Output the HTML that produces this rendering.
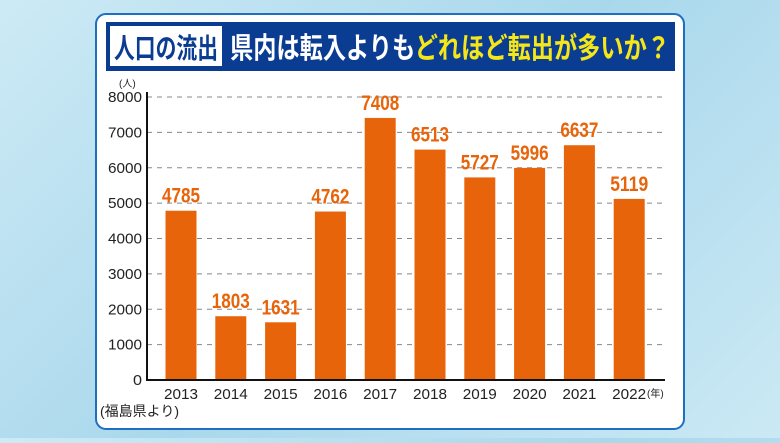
<!DOCTYPE html>
<html><head><meta charset="utf-8"><style>
body{margin:0;width:780px;height:438px;overflow:hidden;background:linear-gradient(135deg,#cdeaf5,#a9d8ec 50%,#cbe9f4);font-family:"Liberation Sans","Noto Sans CJK JP",sans-serif}
</style></head><body>
<svg width="780" height="438" id="c">
<rect x="96" y="14" width="588" height="415" rx="10" fill="#fff" stroke="#1f6fc0" stroke-width="2"/>
<rect x="106" y="22" width="569" height="49" fill="#0a3d91"/>
<rect x="110" y="26" width="112" height="40" fill="#fff"/>
<text x="166" y="58" text-anchor="middle" font-size="28" font-weight="bold" fill="#0a3d91" textLength="104" lengthAdjust="spacingAndGlyphs">人口の流出</text>
<text x="230" y="58" font-size="29" font-weight="bold" textLength="440" lengthAdjust="spacingAndGlyphs"><tspan fill="#fff">県内は転入よりも</tspan><tspan fill="#f5e61a">どれほど転出が多いか？</tspan></text>
<text x="119" y="87" font-size="10" fill="#222">(人)</text>
<text x="647" y="397" font-size="10" fill="#222">(年)</text>
<text x="100" y="416" font-size="14" fill="#222">(福島県より)</text>
<g id="g"></g>
</svg>
<script>
const years=["2013","2014","2015","2016","2017","2018","2019","2020","2021","2022"];
const values=[4785,1803,1631,4762,7408,6513,5727,5996,6637,5119];
const ticks=[0,1000,2000,3000,4000,5000,6000,7000,8000];
const NS="http://www.w3.org/2000/svg",g=document.getElementById('g');
const y=v=>380-v*(283/8000), x=i=>181+i*49.8;
function mk(t,a,txt){const e=document.createElementNS(NS,t);for(const k in a)e.setAttribute(k,a[k]);if(txt!=null)e.textContent=txt;g.appendChild(e);return e;}
ticks.forEach(t=>{
 if(t>0){const l=mk('line',{x1:147,x2:665,y1:y(t),y2:y(t),stroke:'#888','stroke-dasharray':'5 5','stroke-width':1});
 
 }
 const tx=mk('text',{x:142,y:y(t)+5,'text-anchor':'end','font-size':15,fill:'#222',textLength:t>0?34:9,lengthAdjust:'spacingAndGlyphs'},t);
 
 
});
values.forEach((v,i)=>{
 const r=mk('rect',{x:x(i)-15.5,y:y(v),width:31,height:380-y(v),fill:'#e8640a'});
 
 
 const t=mk('text',{x:x(i),y:y(v)-8,'text-anchor':'middle','font-size':21,'font-weight':'bold',fill:'#e8640a',textLength:38,lengthAdjust:'spacingAndGlyphs'},v);
 
 
 const xl=mk('text',{x:x(i),y:399,'text-anchor':'middle','font-size':15,fill:'#222',textLength:34,lengthAdjust:'spacingAndGlyphs'},years[i]);
 
 
});
const ax=mk('line',{x1:147,x2:665,y1:380,y2:380,stroke:'#111','stroke-width':2});


const ay=mk('line',{x1:147,x2:147,y1:92,y2:381,stroke:'#111','stroke-width':2});


</script>
</body></html>
